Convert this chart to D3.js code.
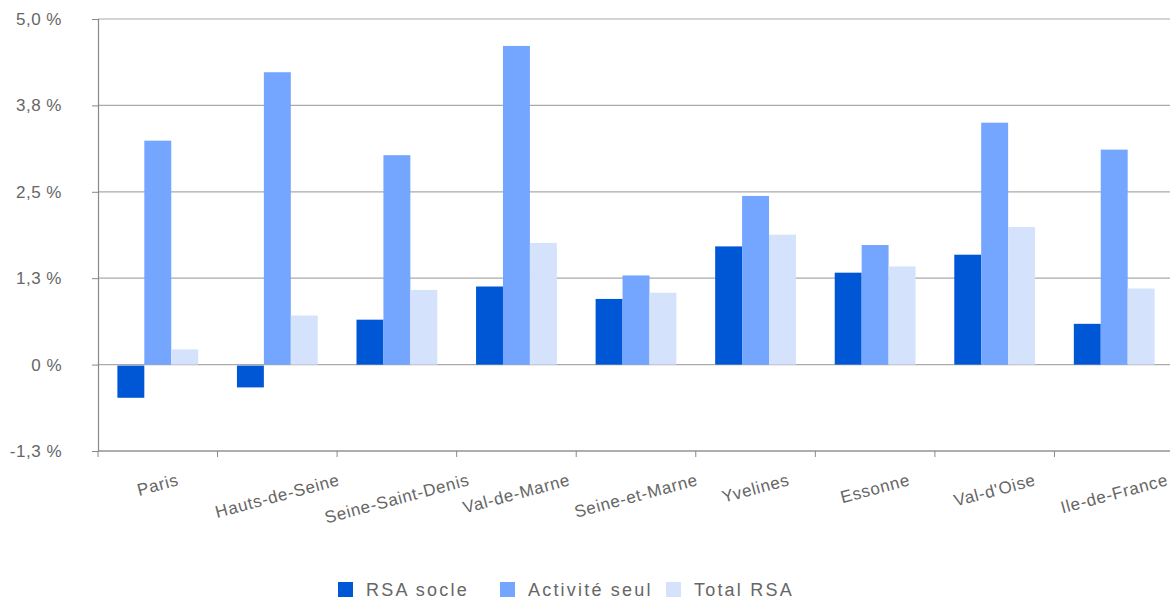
<!DOCTYPE html>
<html>
<head>
<meta charset="utf-8">
<script src="https://cdn.jsdelivr.net/npm/d3@7"></script>
<style>
  body { margin: 0; background: #fff; }
  text { font-family: "Liberation Sans", Arial, sans-serif; fill: #666; }
</style>
</head>
<body>
<div id="chart"></div>
<script>
// data
var categories = ["Paris", "Hauts-de-Seine", "Seine-Saint-Denis", "Val-de-Marne", "Seine-et-Marne", "Yvelines", "Essonne", "Val-d'Oise", "Ile-de-France"];
var seriesNames = ["RSA socle", "Activité seul", "Total RSA"];
var rsaSocle = [-0.48, -0.33, 0.65, 1.13, 0.95, 1.71, 1.33, 1.59, 0.59];
var activiteSeul = [3.24, 4.23, 3.03, 4.61, 1.29, 2.44, 1.73, 3.50, 3.11];
var totalRsa = [0.22, 0.71, 1.08, 1.76, 1.04, 1.88, 1.42, 1.99, 1.10];
var yTicks = [-1.25, 0, 1.25, 2.5, 3.75, 5.0];
var yTickLabels = ["-1,3 %", "0 %", "1,3 %", "2,5 %", "3,8 %", "5,0 %"];
var colors = ["#0057d6", "#74a6ff", "#d4e2fb"];

var width = 1170, height = 599;
var margin = {top: 19, right: -4, bottom: 148, left: 98};

var svg = d3.select("#chart").append("svg")
    .attr("width", width)
    .attr("height", height);

var series = [rsaSocle, activiteSeul, totalRsa];

var x = d3.scaleBand()
    .domain(categories)
    .range([margin.left, width - margin.right])
    .paddingInner(0).paddingOuter(0);

var xSub = d3.scaleBand()
    .domain(d3.range(3))
    .range([0, x.bandwidth()])
    .paddingOuter(0.72).paddingInner(0);

var y = d3.scaleLinear()
    .domain([-1.25, 5.0])
    .range([height - margin.bottom, margin.top]);

// gridlines
svg.append("g")
    .selectAll("line")
    .data(yTicks)
    .join("line")
    .attr("x1", margin.left)
    .attr("x2", width)
    .attr("y1", d => y(d))
    .attr("y2", d => y(d))
    .attr("stroke", "#aaa")
    .attr("stroke-width", 1.2);

// bars
svg.append("g")
    .selectAll("g")
    .data(categories)
    .join("g")
    .attr("transform", d => "translate(" + x(d) + ",0)")
    .selectAll("rect")
    .data((d, i) => series.map((s, k) => ({k: k, v: s[i]})))
    .join("rect")
    .attr("x", d => xSub(d.k))
    .attr("width", xSub.bandwidth())
    .attr("y", d => d.v >= 0 ? y(d.v) : y(0) + 1)
    .attr("height", d => Math.abs(y(d.v) - y(0)) - (d.v < 0 ? 1 : 0))
    .attr("fill", d => colors[d.k]);

// y axis
var yAxis = d3.axisLeft(y)
    .tickValues(yTicks)
    .tickSize(6)
    .tickPadding(30)
    .tickFormat((d, i) => yTickLabels[i]);

var gy = svg.append("g")
    .attr("transform", "translate(" + margin.left + ",0)")
    .call(yAxis);
gy.select(".domain").attr("stroke", "#888").attr("stroke-width", 1.2);
gy.selectAll(".tick line").attr("stroke", "#888");
gy.selectAll(".tick text")
    .style("font-size", "17px")
    .style("letter-spacing", "0.5px")
    .attr("fill", "#666");

// x axis
var gx = svg.append("g")
    .attr("transform", "translate(0," + y(-1.25) + ")");
gx.append("line")
    .attr("x1", margin.left).attr("x2", width)
    .attr("stroke", "#888").attr("stroke-width", 1.2);
gx.selectAll(".sep")
    .data(categories)
    .join("line")
    .attr("class", "sep")
    .attr("x1", d => x(d)).attr("x2", d => x(d))
    .attr("y1", 0).attr("y2", 6)
    .attr("stroke", "#888");

// rotated category labels
var angle = 15 * Math.PI / 180;
var labelTop = 20;
gx.selectAll(".lbl")
    .data(categories)
    .join("text")
    .attr("class", "lbl")
    .style("font-size", "17px")
    .style("letter-spacing", "0.7px")
    .attr("text-anchor", "middle")
    .attr("dy", "0.35em")
    .text(d => d)
    .each(function(d) {
        var w = this.getComputedTextLength();
        var h = 17;
        var cx = x(d) + x.bandwidth() / 2;
        var cy = labelTop + (w * Math.sin(angle) + h * Math.cos(angle)) / 2;
        d3.select(this).attr("transform", "translate(" + cx + "," + cy + ") rotate(-15)");
    });

// legend
var legendX = [338, 500, 666];
var legend = svg.append("g")
    .selectAll("g")
    .data(seriesNames)
    .join("g")
    .attr("transform", (d, i) => "translate(" + legendX[i] + ",582)");
legend.append("rect")
    .attr("width", 15).attr("height", 15)
    .attr("fill", (d, i) => colors[i]);
legend.append("text")
    .attr("x", 28).attr("y", 8)
    .attr("dy", "0.35em")
    .style("font-size", "18px")
    .style("letter-spacing", "2.2px")
    .text(d => d);
</script>
</body>
</html>
